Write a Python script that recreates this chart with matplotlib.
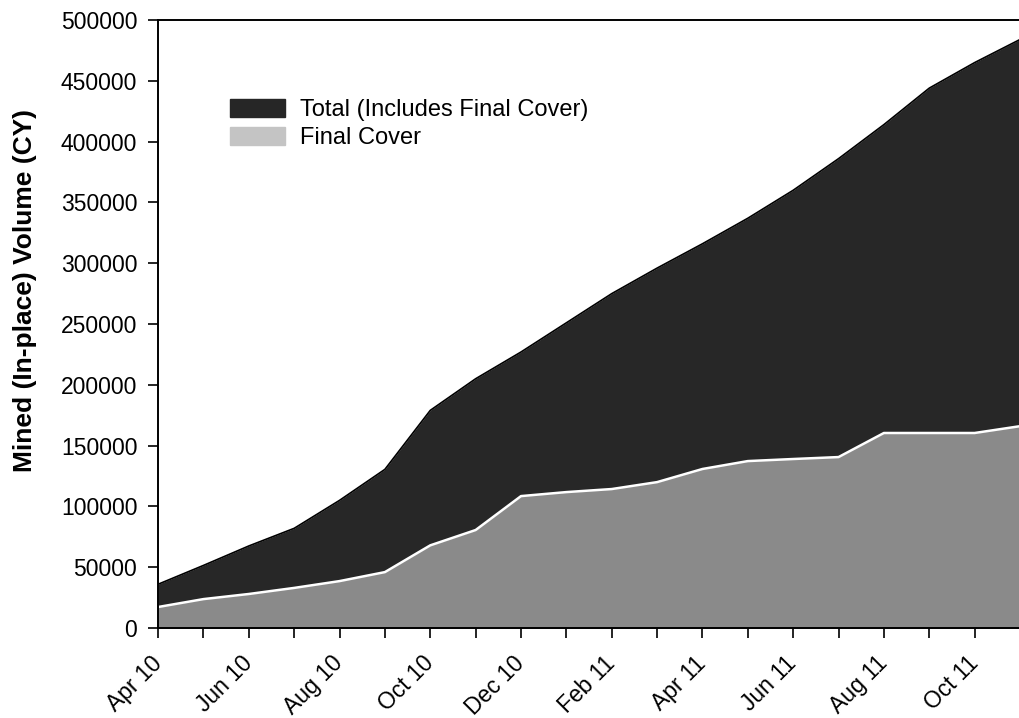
import numpy as np
import matplotlib
matplotlib.use('Agg')
import matplotlib.pyplot as plt
from matplotlib.patches import Patch

plt.rcParams['font.family'] = ['Liberation Sans', 'DejaVu Sans']

# monthly data, Apr 2010 - Nov 2011
months = ['Apr 10', 'May 10', 'Jun 10', 'Jul 10', 'Aug 10', 'Sep 10', 'Oct 10',
          'Nov 10', 'Dec 10', 'Jan 11', 'Feb 11', 'Mar 11', 'Apr 11', 'May 11',
          'Jun 11', 'Jul 11', 'Aug 11', 'Sep 11', 'Oct 11', 'Nov 11']
total = [36000, 51500, 67500, 82000, 105000, 130500, 179000, 205000, 227000,
         251000, 275000, 296000, 316000, 337000, 360000, 386000, 414000,
         444000, 465000, 484000]
final_cover = [17300, 23800, 28000, 33000, 38600, 46000, 68000, 80600, 108500,
               111800, 114300, 120000, 130800, 137300, 139000, 140600, 160400,
               160400, 160400, 166000]

x = np.arange(len(months))

fig = plt.figure(figsize=(10.2, 7.18), dpi=100)
ax = fig.add_axes([0.155, 0.1253, 0.845, 0.8468])

ax.fill_between(x, 0, total, color='#272727', linewidth=0)
ax.plot(x, total, color='black', linewidth=1.2)
ax.fill_between(x, 0, final_cover, color='#8a8a8a', linewidth=0)
ax.plot(x, final_cover, color='white', linewidth=1.8)

ax.set_xlim(0, len(months) - 1)
ax.set_ylim(0, 500000)
ax.set_yticks(np.arange(0, 500001, 50000))
ax.set_xticks(x)
ax.set_xticklabels([m if i % 2 == 0 else '' for i, m in enumerate(months)],
                   rotation=45, ha='right', va='center', rotation_mode='anchor')
ax.tick_params(axis='both', direction='out', length=7, width=1.2,
               labelsize=16.5, colors='black')
ax.tick_params(axis='x', pad=16)
ax.tick_params(axis='y', pad=8)

for side in ['left', 'bottom', 'top']:
    ax.spines[side].set_linewidth(1.4)
ax.spines['right'].set_visible(False)

ax.set_ylabel('Mined (In-place) Volume (CY)', fontsize=19, fontweight='bold')
ax.yaxis.set_label_coords(-0.14, 0.555)

handles = [Patch(facecolor='#262626', edgecolor='#262626'),
           Patch(facecolor='#c4c4c4', edgecolor='#c4c4c4')]
ax.legend(handles, ['Total (Includes Final Cover)', 'Final Cover'],
          loc='upper left', bbox_to_anchor=(0.0587, 0.905), frameon=False,
          fontsize=17, handlelength=2.33, handleheight=0.8, labelspacing=0.25,
          handletextpad=0.64)

fig.savefig('out.png', dpi=100)
